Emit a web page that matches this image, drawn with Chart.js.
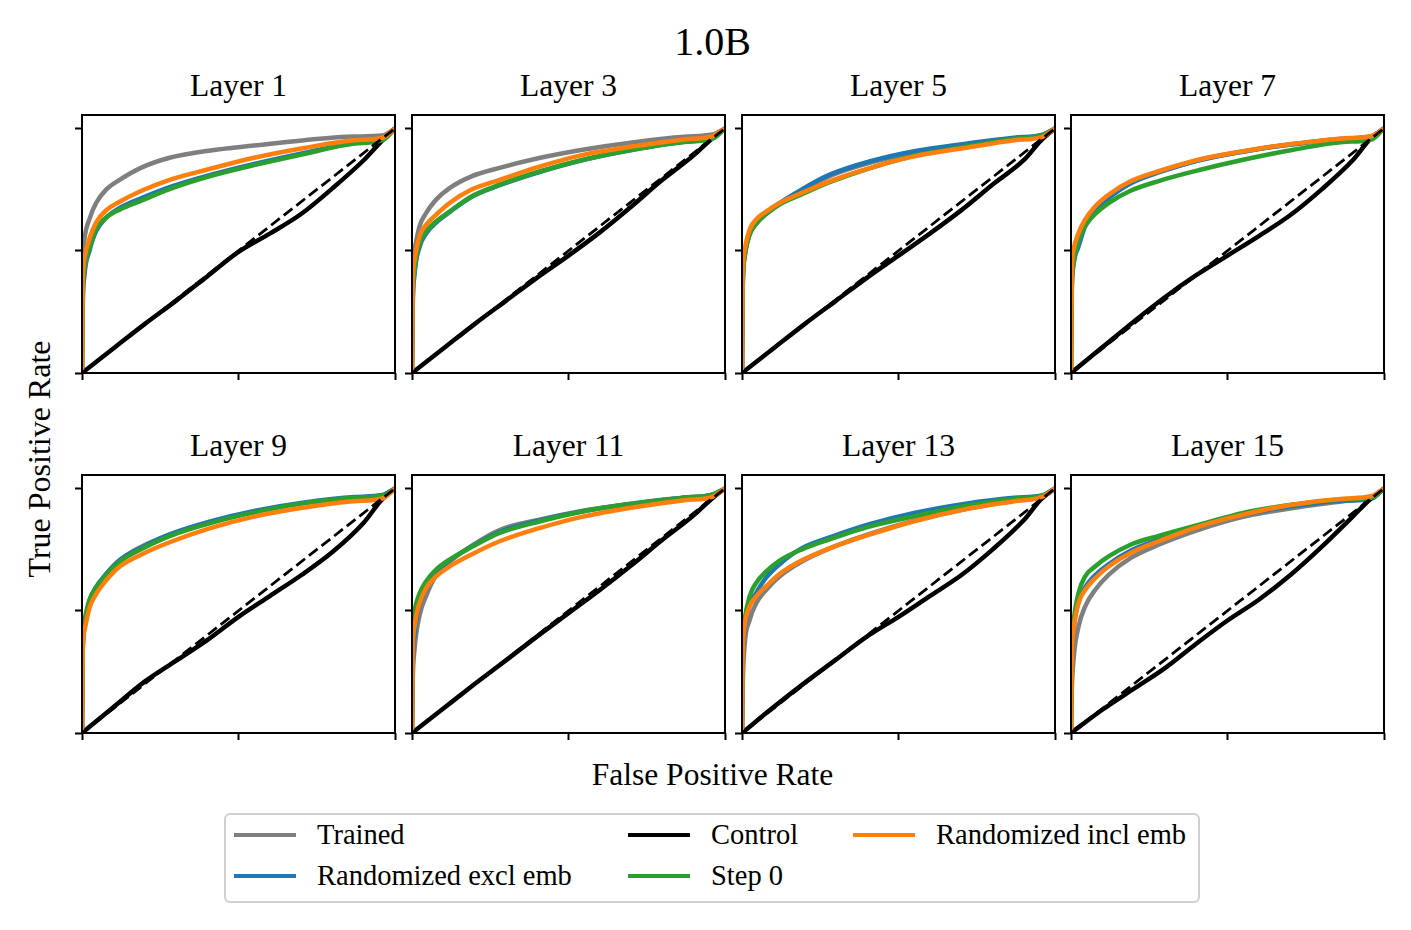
<!DOCTYPE html>
<html>
<head>
<meta charset="utf-8">
<script src="https://cdn.jsdelivr.net/npm/chart.js@4.4.1/dist/chart.umd.min.js"></script>
<style>
  body { margin: 0; background: #fff; }
  #fig { position: relative; width: 1411px; height: 930px; font-family: "Liberation Serif", "DejaVu Serif", serif; color: #000; }
  #fig canvas { position: absolute; }
  .txt { position: absolute; line-height: 1; white-space: nowrap; text-align: center; }
  .legend { position: absolute; left: 224px; top: 813px; width: 972px; height: 86px; border: 2px solid #d0d0d0; border-radius: 6px; }
  .swatch { position: absolute; height: 4px; width: 62px; }
  .lbl { position: absolute; font-size: 28.5px; line-height: 1; white-space: nowrap; }
</style>
</head>
<body>
<div id="fig"></div>
<script>
const layers = [1, 3, 5, 7, 9, 11, 13, 15];
const fprGrid = [0, 0.002, 0.008, 0.024, 0.045, 0.077, 0.12, 0.19, 0.28, 0.41, 0.55, 0.71, 0.87, 0.96, 1];
const controlFpr = [0, 0.1, 0.2, 0.3, 0.4, 0.5, 0.6, 0.7, 0.8, 0.9, 0.955, 1];
const chanceLine = [0, 1];

// one row per layer
const trainedTpr = [
  [0, 0.40, 0.55, 0.63, 0.695, 0.75, 0.79, 0.84, 0.88, 0.91, 0.93, 0.952, 0.967, 0.971, 1],
  [0, 0.38, 0.50, 0.60, 0.654, 0.709, 0.756, 0.804, 0.839, 0.88, 0.914, 0.944, 0.966, 0.975, 1],
  [0, 0.33, 0.47, 0.565, 0.61, 0.65, 0.69, 0.745, 0.805, 0.86, 0.902, 0.933, 0.96, 0.973, 1],
  [0, 0.36, 0.49, 0.56, 0.618, 0.674, 0.724, 0.78, 0.822, 0.871, 0.906, 0.936, 0.958, 0.968, 1],
  [0, 0.32, 0.43, 0.535, 0.59, 0.648, 0.706, 0.762, 0.81, 0.862, 0.905, 0.94, 0.962, 0.972, 1],
  [0, 0.20, 0.34, 0.48, 0.56, 0.645, 0.70, 0.765, 0.83, 0.873, 0.91, 0.94, 0.963, 0.975, 1],
  [0, 0.18, 0.353, 0.46, 0.53, 0.585, 0.64, 0.70, 0.755, 0.815, 0.868, 0.915, 0.95, 0.966, 1],
  [0, 0.15, 0.298, 0.435, 0.517, 0.585, 0.647, 0.715, 0.77, 0.832, 0.884, 0.92, 0.948, 0.962, 1]
];
const randExclTpr = [
  [0, 0.25, 0.40, 0.50, 0.58, 0.635, 0.675, 0.715, 0.76, 0.81, 0.855, 0.90, 0.94, 0.955, 1],
  [0, 0.25, 0.40, 0.515, 0.57, 0.615, 0.658, 0.72, 0.768, 0.823, 0.872, 0.914, 0.946, 0.96, 1],
  [0, 0.35, 0.48, 0.57, 0.613, 0.654, 0.695, 0.75, 0.811, 0.866, 0.907, 0.937, 0.962, 0.975, 1],
  [0, 0.30, 0.44, 0.517, 0.60, 0.665, 0.715, 0.775, 0.82, 0.87, 0.905, 0.935, 0.957, 0.967, 1],
  [0, 0.33, 0.44, 0.54, 0.597, 0.65, 0.706, 0.758, 0.812, 0.865, 0.908, 0.943, 0.965, 0.973, 1],
  [0, 0.25, 0.40, 0.525, 0.59, 0.655, 0.705, 0.762, 0.823, 0.87, 0.908, 0.938, 0.962, 0.975, 1],
  [0, 0.28, 0.42, 0.52, 0.572, 0.635, 0.69, 0.755, 0.80, 0.855, 0.90, 0.937, 0.962, 0.972, 1],
  [0, 0.28, 0.42, 0.54, 0.595, 0.645, 0.69, 0.745, 0.79, 0.847, 0.893, 0.928, 0.95, 0.958, 1]
];
const step0Tpr = [
  [0, 0.30, 0.43, 0.51, 0.59, 0.635, 0.668, 0.705, 0.752, 0.805, 0.85, 0.895, 0.938, 0.952, 1],
  [0, 0.28, 0.42, 0.53, 0.579, 0.62, 0.66, 0.722, 0.77, 0.825, 0.873, 0.914, 0.945, 0.958, 1],
  [0, 0.33, 0.47, 0.565, 0.61, 0.65, 0.69, 0.73, 0.78, 0.838, 0.888, 0.925, 0.958, 0.972, 1],
  [0, 0.33, 0.45, 0.544, 0.60, 0.65, 0.695, 0.745, 0.785, 0.83, 0.872, 0.913, 0.945, 0.955, 1],
  [0, 0.35, 0.46, 0.545, 0.595, 0.645, 0.70, 0.752, 0.805, 0.858, 0.902, 0.94, 0.962, 0.97, 1],
  [0, 0.38, 0.50, 0.57, 0.62, 0.668, 0.709, 0.76, 0.818, 0.866, 0.907, 0.938, 0.962, 0.975, 1],
  [0, 0.33, 0.46, 0.558, 0.613, 0.66, 0.705, 0.75, 0.792, 0.845, 0.886, 0.927, 0.958, 0.971, 1],
  [0, 0.30, 0.449, 0.572, 0.64, 0.681, 0.722, 0.77, 0.806, 0.852, 0.90, 0.934, 0.955, 0.962, 1]
];
const randInclTpr = [
  [0, 0.35, 0.47, 0.55, 0.615, 0.665, 0.70, 0.745, 0.79, 0.835, 0.88, 0.92, 0.952, 0.962, 1],
  [0, 0.33, 0.462, 0.56, 0.606, 0.647, 0.695, 0.75, 0.79, 0.845, 0.893, 0.927, 0.955, 0.969, 1],
  [0, 0.38, 0.50, 0.585, 0.627, 0.66, 0.695, 0.736, 0.784, 0.839, 0.886, 0.92, 0.952, 0.966, 1],
  [0, 0.38, 0.503, 0.572, 0.627, 0.681, 0.729, 0.784, 0.825, 0.873, 0.907, 0.937, 0.959, 0.969, 1],
  [0, 0.32, 0.42, 0.512, 0.568, 0.624, 0.68, 0.73, 0.78, 0.838, 0.885, 0.922, 0.948, 0.959, 1],
  [0, 0.30, 0.435, 0.53, 0.592, 0.64, 0.681, 0.73, 0.784, 0.839, 0.886, 0.923, 0.952, 0.966, 1],
  [0, 0.30, 0.435, 0.517, 0.558, 0.60, 0.65, 0.705, 0.755, 0.812, 0.866, 0.914, 0.948, 0.966, 1],
  [0, 0.28, 0.42, 0.53, 0.585, 0.633, 0.681, 0.736, 0.784, 0.845, 0.893, 0.934, 0.958, 0.969, 1]
];
// control, on controlFpr
const controlTpr = [
  [0, 0.1, 0.2, 0.295, 0.395, 0.495, 0.57, 0.65, 0.755, 0.87, 0.945, 1],
  [0, 0.1, 0.2, 0.295, 0.39, 0.48, 0.575, 0.68, 0.79, 0.89, 0.955, 1],
  [0, 0.1, 0.2, 0.295, 0.39, 0.48, 0.57, 0.665, 0.77, 0.87, 0.95, 1],
  [0, 0.105, 0.21, 0.31, 0.4, 0.48, 0.56, 0.645, 0.75, 0.87, 0.955, 1],
  [0, 0.105, 0.21, 0.295, 0.38, 0.475, 0.56, 0.645, 0.74, 0.86, 0.95, 1],
  [0, 0.1, 0.2, 0.297, 0.395, 0.49, 0.585, 0.685, 0.79, 0.89, 0.955, 1],
  [0, 0.105, 0.205, 0.3, 0.395, 0.475, 0.56, 0.645, 0.75, 0.87, 0.955, 1],
  [0, 0.095, 0.18, 0.265, 0.365, 0.46, 0.545, 0.645, 0.76, 0.885, 0.955, 1]
];

const seriesNames = ['Trained', 'Randomized excl emb', 'Control', 'Step 0', 'Randomized incl emb'];
const seriesColors = ['#7f7f7f', '#1f77b4', '#000000', '#2ca02c', '#ff7f0e'];

const fig = document.getElementById('fig');
const panelLefts = [82, 412, 742, 1071];
const panelTops = [115, 475];
const panelW = 313, panelH = 258;
const axisPad = 10, topPad = 6, rightPad = 8;

function addText(str, size, cx, baseline) {
  const d = document.createElement('div');
  d.className = 'txt';
  d.textContent = str;
  d.style.fontSize = size + 'px';
  d.style.width = '600px';
  d.style.left = (cx - 300) + 'px';
  d.style.top = (baseline - 0.8375 * size) + 'px';
  fig.appendChild(d);
  return d;
}

function pts(xs, ys) {
  return xs.map((x, i) => ({ x, y: ys[i] }));
}

const framePlugin = {
  id: 'frame',
  afterDraw(chart) {
    const { ctx, chartArea: a } = chart;
    ctx.save();
    ctx.strokeStyle = '#000';
    ctx.lineWidth = 2;
    ctx.strokeRect(a.left, a.top, a.right - a.left, a.bottom - a.top);
    ctx.restore();
  }
};

function fixedTicks(scale) {
  scale.ticks = [{ value: 0 }, { value: 0.5 }, { value: 1 }];
}

function line(label, data, color, order, extra) {
  return Object.assign({
    label, data, borderColor: color, backgroundColor: color,
    borderWidth: 4.5, pointRadius: 0, fill: false, order,
    cubicInterpolationMode: 'monotone'
  }, extra || {});
}

layers.forEach((layer, i) => {
  const col = i % 4, row = Math.floor(i / 4);
  const left = panelLefts[col], top = panelTops[row];
  const canvas = document.createElement('canvas');
  const w = axisPad + panelW + rightPad, h = topPad + panelH + axisPad;
  canvas.width = w; canvas.height = h;
  canvas.style.left = (left - axisPad) + 'px';
  canvas.style.top = (top - topPad) + 'px';
  canvas.style.width = w + 'px'; canvas.style.height = h + 'px';
  fig.appendChild(canvas);

  addText('Layer ' + layer, 31.5, left + panelW / 2, top - 18.5);

  new Chart(canvas, {
    type: 'line',
    data: {
      datasets: [
        line('chance', pts(chanceLine, chanceLine), '#000', 0, { borderWidth: 2.8, borderDash: [11, 5], cubicInterpolationMode: 'default' }),
        line(seriesNames[4], pts(fprGrid, randInclTpr[i]), seriesColors[4], 1),
        line(seriesNames[3], pts(fprGrid, step0Tpr[i]), seriesColors[3], 2),
        line(seriesNames[2], pts(controlFpr, controlTpr[i]), seriesColors[2], 3),
        line(seriesNames[1], pts(fprGrid, randExclTpr[i]), seriesColors[1], 4),
        line(seriesNames[0], pts(fprGrid, trainedTpr[i]), seriesColors[0], 5)
      ]
    },
    options: {
      responsive: false,
      animation: false,
      devicePixelRatio: 1,
      layout: { padding: { top: topPad, right: rightPad, left: 0, bottom: 0 } },
      plugins: { legend: { display: false }, tooltip: { enabled: false }, title: { display: false } },
      scales: {
        x: {
          type: 'linear', min: 0, max: 1,
          afterBuildTicks: fixedTicks,
          afterFit(s) { s.height = axisPad; },
          ticks: { display: false },
          border: { display: false },
          grid: { display: true, drawOnChartArea: false, drawTicks: true, tickLength: 7, tickWidth: 2, tickColor: '#000' }
        },
        y: {
          type: 'linear', min: 0, max: 1.055,
          afterBuildTicks: fixedTicks,
          afterFit(s) { s.width = axisPad; },
          ticks: { display: false },
          border: { display: false },
          grid: { display: true, drawOnChartArea: false, drawTicks: true, tickLength: 7, tickWidth: 2, tickColor: '#000' }
        }
      }
    },
    plugins: [framePlugin]
  });
});

// figure texts
addText('1.0B', 40, 712.5, 55);
addText('False Positive Rate', 31.5, 712.5, 785.5);
const yl = addText('True Positive Rate', 32, 39.2, 459 + 0.3375 * 32);
yl.style.transformOrigin = '50% 50%';
yl.style.transform = 'rotate(-90deg)';

// legend
const legend = document.createElement('div');
legend.className = 'legend';
fig.appendChild(legend);
const legendSlots = [
  { s: 0, x: 234, y: 835 }, { s: 1, x: 234, y: 876 },
  { s: 2, x: 628, y: 835 }, { s: 3, x: 628, y: 876 },
  { s: 4, x: 853, y: 835 }
];
legendSlots.forEach(({ s, x, y }) => {
  const sw = document.createElement('div');
  sw.className = 'swatch';
  sw.style.background = seriesColors[s];
  sw.style.left = x + 'px';
  sw.style.top = (y - 2) + 'px';
  fig.appendChild(sw);
  const t = document.createElement('div');
  t.className = 'lbl';
  t.textContent = seriesNames[s];
  t.style.left = (x + 83) + 'px';
  t.style.top = (y + 10 - 0.8375 * 28.5) + 'px';
  fig.appendChild(t);
});
</script>
</body>
</html>
